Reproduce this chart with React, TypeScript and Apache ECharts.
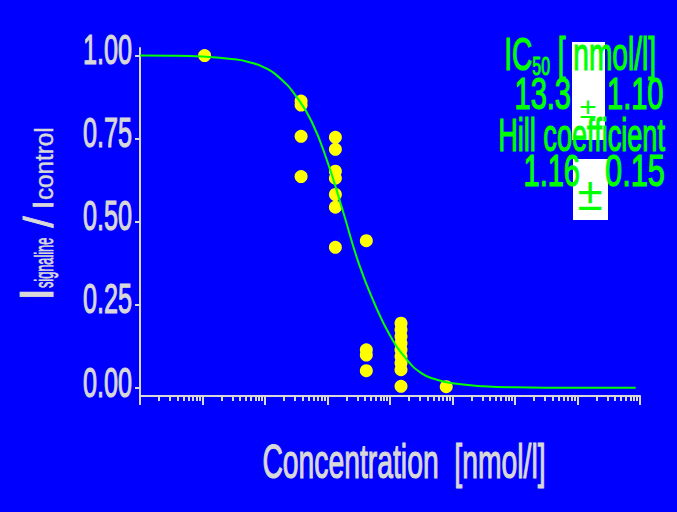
import React, { useEffect, useRef } from "react";
import * as echarts from "echarts";

// ---------- data ----------
const CONCENTRATIONS = [10.8, 378, 1337, 4180, 15000, 79400];
const RESPONSES: number[][] = [
  [1.0],
  [0.863, 0.851, 0.757, 0.636],
  [0.754, 0.718, 0.652, 0.631, 0.582, 0.544, 0.423],
  [0.443, 0.115, 0.099, 0.052],
  [0.195, 0.175, 0.155, 0.135, 0.115, 0.095, 0.075, 0.055, 0.005],
  [0.004],
];
const CURVE_CONC = [1, 3.16, 10, 31.6, 56.2, 100, 178, 316, 562, 1000, 1778, 3162, 5623, 10000, 17783, 31623, 56234, 100000, 316228, 1e6, 1e7, 8.5e7];
const CURVE_RESP = [1.0, 0.9996, 0.997, 0.989, 0.98, 0.963, 0.93, 0.877, 0.8, 0.68, 0.53, 0.375, 0.255, 0.158, 0.09, 0.045, 0.025, 0.014, 0.005, 0.002, 0.001, 0.001];

const DECADES = [0, 1, 2, 3, 4, 5, 6, 7, 8];
const MINOR_MULTIPLIERS = [2, 3, 4, 5, 6, 7, 8, 9];
const Y_TICKS = [0, 0.25, 0.5, 0.75, 1.0];
const Y_LABELS = ["0.00", "0.25", "0.50", "0.75", "1.00"];

const X_TITLE = "Concentration  [nmol/l]";
const Y_TITLE_PARTS = ["I", "signaline", "/", "I", "control"];
const IC50_LABEL = ["IC", "50", " [ nmol/l]"];
const IC50_VALUE = ["13.3", "±", "1.10"];
const HILL_LABEL = "Hill coefficient";
const HILL_VALUE = ["1.16", "±", "0.15"];

// ---------- styles ----------
const BG = "#0000ff";
const AXIS = "#d8d8d8";
const GREEN = "#00ff00";
const FONT = "'Liberation Sans', Arial, Helvetica, sans-serif";

const minorTicks: number[] = [];
DECADES.slice(0, -1).forEach((d) => {
  MINOR_MULTIPLIERS.forEach((k) => minorTicks.push(Math.log10(k * Math.pow(10, d))));
});

const scatterData: number[][] = [];
CONCENTRATIONS.forEach((c, i) => {
  RESPONSES[i].forEach((v) => scatterData.push([Math.log10(c), v]));
});
const curveData = CURVE_CONC.map((c, i) => [Math.log10(c), CURVE_RESP[i]]);

function txt(text: string, x: number, y: number, size: number, fill: string, align: string, scaleX: number, bold = 0) {
  return {
    type: "text",
    x,
    y,
    scaleX,
    silent: true,
    style: {
      text,
      fill,
      fontSize: size,
      fontFamily: FONT,
      align,
      textAlign: align,
      verticalAlign: "middle",
      textVerticalAlign: "middle",
      ...(bold > 0 ? { stroke: fill, lineWidth: bold } : {}),
    },
  };
}

const option: any = {
  animation: false,
  backgroundColor: BG,
  grid: { left: 140, right: 37, top: 48, bottom: 116, containLabel: false },
  xAxis: [
    {
      type: "value",
      min: DECADES[0],
      max: DECADES[DECADES.length - 1],
      interval: 1,
      position: "bottom",
      axisLine: { show: true, onZero: false, lineStyle: { color: AXIS, width: 2 } },
      axisTick: { show: true, length: 9, lineStyle: { color: AXIS, width: 2 } },
      axisLabel: { show: false },
      splitLine: { show: false },
    },
    {
      type: "value",
      min: DECADES[0],
      max: DECADES[DECADES.length - 1],
      position: "bottom",
      axisLine: { show: false, onZero: false },
      axisTick: { show: true, length: 5, customValues: minorTicks, lineStyle: { color: AXIS, width: 2 } },
      axisLabel: { show: false },
      splitLine: { show: false },
    },
  ],
  yAxis: {
    type: "value",
    min: -0.024,
    max: 1.0226,
    axisLine: { show: true, onZero: false, lineStyle: { color: AXIS, width: 2 } },
    axisTick: { show: true, length: 5, customValues: Y_TICKS, lineStyle: { color: AXIS, width: 2 } },
    axisLabel: { show: false },
    splitLine: { show: false },
  },
  series: [
    {
      type: "scatter",
      data: scatterData,
      symbol: "circle",
      symbolSize: 13,
      itemStyle: { color: "#ffff00", opacity: 1 },
      silent: true,
    },
    {
      type: "line",
      data: curveData,
      smooth: true,
      showSymbol: false,
      lineStyle: { color: GREEN, width: 2 },
      silent: true,
    },
  ],
};

function buildGraphics(yPix: (v: number) => number) {
  const g: any[] = [];
  // y tick labels
  Y_TICKS.forEach((v, i) => {
    g.push(txt(Y_LABELS[i], 132, yPix(v) - 6, 42, AXIS, "right", 0.6, 1.2));
  });
  // x title
  g.push(txt(X_TITLE, 404, 461, 48, AXIS, "center", 0.59, 1.2));
  // y title (rotated group)
  g.push({
    type: "group",
    x: 53,
    y: 297,
    rotation: Math.PI / 2,
    children: [
      txt(Y_TITLE_PARTS[0], -4, -16.6, 48, AXIS, "left", 1, 0.8),
      txt(Y_TITLE_PARTS[1], 9, -8.7, 25, AXIS, "left", 0.51, 0.8),
      txt(Y_TITLE_PARTS[2], 75, -13.9, 40, AXIS, "center", 1, 1),
      txt(Y_TITLE_PARTS[3], 88, -10.4, 30, AXIS, "left", 1, 0.8),
      txt(Y_TITLE_PARTS[4], 97, -8.7, 25, AXIS, "left", 0.97, 0.4),
    ],
  });
  // white boxes
  g.push({ type: "rect", shape: { x: 572, y: 42, width: 33, height: 98 }, style: { fill: "#ffffff" }, silent: true });
  g.push({ type: "rect", shape: { x: 573, y: 159, width: 35, height: 61 }, style: { fill: "#ffffff" }, silent: true });
  // legend text
  g.push({
    type: "text",
    x: 656,
    y: 54,
    scaleX: 0.61,
    silent: true,
    style: {
      text: `{b|${IC50_LABEL[0]}}{s|${IC50_LABEL[1]}}{b|${IC50_LABEL[2]}}`,
      fill: GREEN,
      stroke: GREEN,
      lineWidth: 1.2,
      fontFamily: FONT,
      fontSize: 46,
      align: "right",
      textAlign: "right",
      verticalAlign: "middle",
      textVerticalAlign: "middle",
      rich: {
        b: { fontSize: 46, fontFamily: FONT, fill: GREEN, stroke: GREEN, lineWidth: 1.2, verticalAlign: "bottom" },
        s: { fontSize: 26, fontFamily: FONT, fill: GREEN, stroke: GREEN, lineWidth: 1, verticalAlign: "bottom", padding: [0, 0, -3, 0] },
      },
    },
  });
  g.push(txt(IC50_VALUE[0], 571, 94, 44, GREEN, "right", 0.66, 1.2));
  g.push(txt(IC50_VALUE[1], 588, 107, 30, GREEN, "center", 1));
  g.push(txt(IC50_VALUE[2], 607, 94, 44, GREEN, "left", 0.66, 1.2));
  g.push(txt(HILL_LABEL, 665, 135, 46, GREEN, "right", 0.59, 1.2));
  g.push(txt(HILL_VALUE[0], 580, 171, 44, GREEN, "right", 0.66, 1.2));
  g.push(txt(HILL_VALUE[1], 590, 194, 46, GREEN, "center", 1));
  g.push(txt(HILL_VALUE[2], 605, 171, 44, GREEN, "left", 0.7, 1.2));
  return g;
}

export default function App() {
  const ref = useRef<HTMLDivElement>(null);
  useEffect(() => {
    if (!ref.current) return;
    const chart = echarts.init(ref.current, null, { renderer: "svg" });
    chart.setOption(option);
    const yPix = (v: number) => chart.convertToPixel({ yAxisIndex: 0 }, v) as number;
    chart.setOption({ graphic: buildGraphics(yPix) });
    return () => chart.dispose();
  }, []);
  return <div ref={ref} style={{ position: "absolute", left: 0, top: 0, width: 677, height: 512 }} />;
}
